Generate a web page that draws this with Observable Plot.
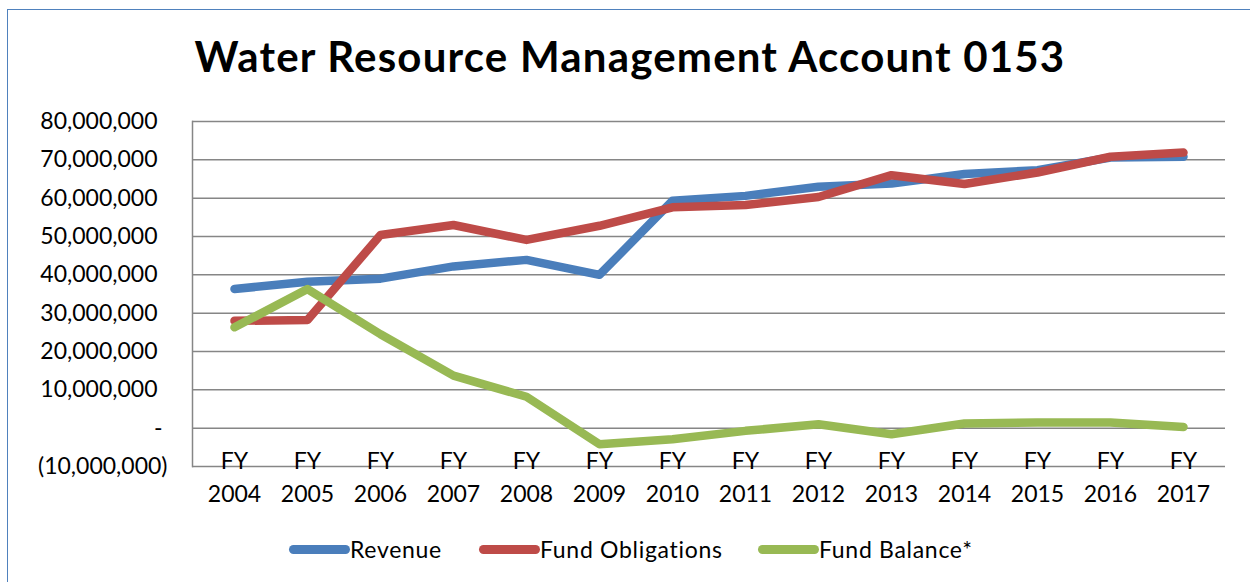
<!DOCTYPE html>
<html>
<head>
<meta charset="utf-8">
<script src="https://cdn.jsdelivr.net/npm/d3@7"></script>
<script src="https://cdn.jsdelivr.net/npm/@observablehq/plot@0.6"></script>
<style>
  html, body { margin: 0; padding: 0; background: #fff; }
  #wrap { position: relative; width: 1250px; height: 582px; overflow: hidden; font-family: Lato, "Open Sans", sans-serif; }
  #frame { position: absolute; left: 7px; top: 9px; width: 1300px; height: 700px; border-left: 1.5px solid #4f81bd; border-top: 1.5px solid #4f81bd; }
  #title { position: absolute; left: 0; top: 0; width: 1260px; height: 100px; font-weight: bold; font-size: 42px; letter-spacing: 1.2px; line-height: 1; color: #000; }
  #title span { position: absolute; left: 630px; top: 35px; transform: translateX(-50%); white-space: nowrap; }
  #chart { position: absolute; left: 0; top: 100px; }
  #legend { position: absolute; left: 0; top: 520px; width: 1250px; height: 62px; }
  .item { position: absolute; top: 15px; height: 28px; display: flex; align-items: center; font-size: 23px; letter-spacing: 0.7px; color: #000; white-space: nowrap; }
  .sw { width: 61px; height: 9px; border-radius: 4.5px; margin-right: 0px; }
</style>
</head>
<body>
<div id="wrap">
  <div id="frame"></div>
  <div id="title"><span>Water Resource Management Account 0153</span></div>
  <div id="chart"></div>
  <div id="legend"></div>
</div>
<script>
const years = ["2004","2005","2006","2007","2008","2009","2010","2011","2012","2013","2014","2015","2016","2017"];
const revenue     = [36.3, 38.2, 39.0, 42.2, 43.9, 40.0, 59.3, 60.6, 63.0, 63.8, 66.3, 67.3, 70.6, 70.8].map(v => v * 1e6);
const obligations = [28.0, 28.2, 50.4, 53.0, 49.1, 52.8, 57.6, 58.2, 60.3, 66.0, 63.7, 66.7, 70.8, 71.9].map(v => v * 1e6);
const balance     = [26.3, 36.3, 24.5, 13.7, 8.2, -4.2, -2.9, -0.7, 1.0, -1.6, 1.2, 1.5, 1.5, 0.3].map(v => v * 1e6);
const seriesNames = ["Revenue", "Fund Obligations", "Fund Balance*"];
const seriesColors = ["#4a7ebb", "#be4b48", "#98b954"];
const yTicks = [-10e6, 0, 10e6, 20e6, 30e6, 40e6, 50e6, 60e6, 70e6, 80e6];

const seriesValues = [revenue, obligations, balance];
const rows = [];
seriesNames.forEach((name, s) => years.forEach((yr, i) => rows.push({series: name, year: yr, value: seriesValues[s][i]})));

const fmt = d3.format(",");
const font = "Lato, 'Open Sans', sans-serif";

const plot = Plot.plot({
  width: 1250,
  height: 420,
  marginLeft: 192,
  marginRight: 25,
  marginTop: 21,
  marginBottom: 54,
  style: {fontFamily: font, fontSize: "23px", color: "#000", background: "transparent", overflow: "visible"},
  x: {type: "point", domain: years, padding: 0.5, label: null},
  y: {domain: [-10e6, 80e6], label: null},
  color: {domain: seriesNames, range: seriesColors},
  marks: [
    Plot.gridY(yTicks, {stroke: "#868686", strokeOpacity: 1, strokeWidth: 1.5}),
    Plot.frame({anchor: "left", stroke: "#868686", strokeWidth: 1.5}),
    Plot.axisY(yTicks.filter(d => d > 0), {tickSize: 0, tickPadding: 35, tickFormat: d => fmt(d), fill: "#000", label: null}),
    Plot.axisY([0], {tickSize: 0, tickPadding: 30, tickFormat: () => "-", fill: "#000", label: null}),
    Plot.axisY(yTicks.filter(d => d < 0), {tickSize: 0, tickPadding: 25, tickFormat: d => "(" + fmt(-d) + ")", fill: "#000", label: null}),
    Plot.axisX({tickSize: 0, tickPadding: 0, dy: -20, lineHeight: 1.4, tickFormat: d => "FY\n" + d, fill: "#000", label: null}),
    Plot.line(rows, {x: "year", y: "value", z: "series", stroke: "series", strokeWidth: 8.5, strokeLinecap: "round", strokeLinejoin: "round"})
  ]
});
document.getElementById("chart").appendChild(plot);

const legendX = [289, 479, 758];
const lg = document.getElementById("legend");
seriesNames.forEach((name, i) => {
  const it = document.createElement("div");
  it.className = "item";
  it.style.left = legendX[i] + "px";
  const sw = document.createElement("div");
  sw.className = "sw";
  sw.style.background = seriesColors[i];
  it.appendChild(sw);
  const t = document.createElement("span");
  t.textContent = name;
  it.appendChild(t);
  lg.appendChild(it);
});
</script>
</body>
</html>
